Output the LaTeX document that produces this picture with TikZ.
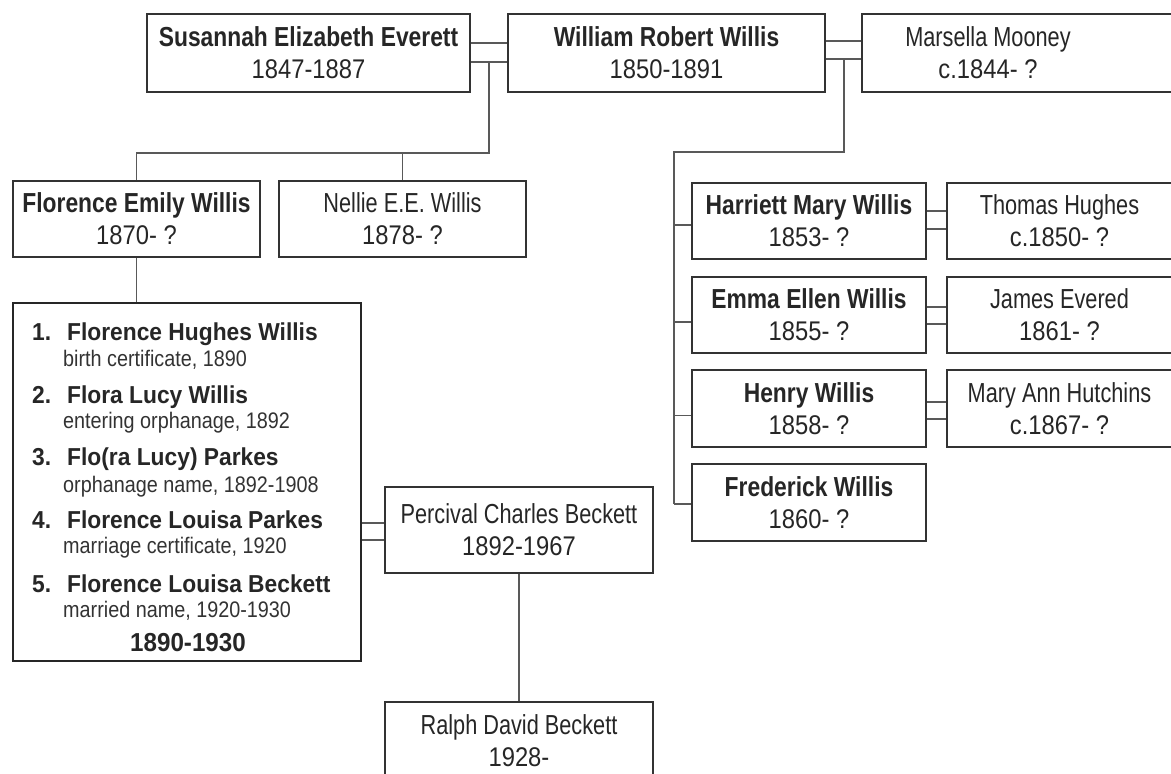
\documentclass[tikz,border=0pt]{standalone}
\usepackage{fontspec}
\setmainfont{Liberation Sans}
\newfontfamily\condb{Liberation Sans}[FakeStretch=0.83]
\newfontfamily\condr{Liberation Sans}[FakeStretch=0.79]
\newfontfamily\datef{Liberation Sans}[FakeStretch=0.88]
\newfontfamily\bigf{Liberation Sans}[FakeStretch=0.93]
\newcommand\pnb[1]{{\condb\bfseries\fontsize{27.5}{32}\selectfont #1}}
\newcommand\pnr[1]{{\condr\fontsize{27.5}{32}\selectfont #1}}
\newcommand\pdt[1]{{\datef\fontsize{27}{32}\selectfont #1}}
\begin{document}
\begin{tikzpicture}[x=1pt,y=-1pt,
  box/.style={draw=black!80, line width=1.8pt, inner sep=0pt, align=center,
    text=black!85, font=\fontsize{27}{32}\selectfont},
  txt/.style={inner sep=0pt, align=center, text=black!85, font=\fontsize{27}{32}\selectfont},
  conn/.style={draw=black!65, line width=1.8pt},
  itemname/.style={anchor=base west, inner sep=0pt, text=black!85, font=\bigf\bfseries\fontsize{24.5}{28}\selectfont},
  itemsub/.style={anchor=base west, inner sep=0pt, text=black!80, font=\datef\fontsize{22.5}{24}\selectfont}]
\useasboundingbox (0,0) rectangle (1171,774);
\fill[white] (0,0) rectangle (1171,774);

% top row
\node[box, minimum width=323pt, minimum height=78pt] (sus) at (308.5,53) {\pnb{Susannah Elizabeth Everett}\\\pdt{1847-1887}};
\node[box, minimum width=317pt, minimum height=78pt] (wil) at (666.5,53) {\pnb{William Robert Willis}\\\pdt{1850-1891}};
\node[box, minimum width=318pt, minimum height=78pt] (mar) at (1021,53) {};
\node[txt] (mart) at (988,53) {\pnr{Marsella Mooney}\\\pdt{c.1844- ?}};

% left children
\node[box, minimum width=247pt, minimum height=76pt] (flo) at (136.5,219) {\pnb{Florence Emily Willis}\\\pdt{1870- ?}};
\node[box, minimum width=247pt, minimum height=76pt] (nel) at (402.5,219) {\pnr{Nellie E.E. Willis}\\\pdt{1878- ?}};

% right children and spouses
\node[box, minimum width=234pt, minimum height=76pt] (har) at (809,221) {\pnb{Harriett Mary Willis}\\\pdt{1853- ?}};
\node[box, minimum width=225pt, minimum height=76pt] (tho) at (1059.5,221) {\pnr{Thomas Hughes}\\\pdt{c.1850- ?}};
\node[box, minimum width=234pt, minimum height=76pt] (emm) at (809,315) {\pnb{Emma Ellen Willis}\\\pdt{1855- ?}};
\node[box, minimum width=225pt, minimum height=76pt] (jam) at (1059.5,315) {\pnr{James Evered}\\\pdt{1861- ?}};
\node[box, minimum width=234pt, minimum height=77pt] (hen) at (809,408.5) {\pnb{Henry Willis}\\\pdt{1858- ?}};
\node[box, minimum width=225pt, minimum height=77pt] (mah) at (1059.5,408.5) {\pnr{Mary Ann Hutchins}\\\pdt{c.1867- ?}};
\node[box, minimum width=234pt, minimum height=77pt] (fre) at (809,502.5) {\pnb{Frederick Willis}\\\pdt{1860- ?}};

% big box
\node[draw=black!85, line width=2.6pt, minimum width=348pt, minimum height=358pt, inner sep=0pt] (big) at (187,482) {};
\node[itemname] (n1) at (32,340) {\makebox[35pt][l]{1.}Florence Hughes Willis};
\node[itemsub] (s1) at (63,366) {birth certificate, 1890};
\node[itemname] (n2) at (32,403) {\makebox[35pt][l]{2.}Flora Lucy Willis};
\node[itemsub] (s2) at (63,428) {entering orphanage, 1892};
\node[itemname] (n3) at (32,465) {\makebox[35pt][l]{3.}Flo(ra Lucy) Parkes};
\node[itemsub] (s3) at (63,492) {orphanage name, 1892-1908};
\node[itemname] (n4) at (32,528) {\makebox[35pt][l]{4.}Florence Louisa Parkes};
\node[itemsub] (s4) at (63,553) {marriage certificate, 1920};
\node[itemname] (n5) at (32,592) {\makebox[35pt][l]{5.}Florence Louisa Beckett};
\node[itemsub] (s5) at (63,617) {married name, 1920-1930};
\node[anchor=base, inner sep=0pt, text=black!85, font=\bigf\bfseries\fontsize{26}{30}\selectfont] (yrs) at (188,651) {1890-1930};

% Beckett
\node[box, minimum width=268pt, minimum height=86pt] (per) at (519,530) {\pnr{Percival Charles Beckett}\\\pdt{1892-1967}};
\node[box, minimum width=268pt, minimum height=78pt] (ral) at (519,741) {\pnr{Ralph David Beckett}\\\pdt{1928-}};

% marriages
\draw[conn] ([yshift=10pt]sus.east) -- ([yshift=10pt]sus.east -| wil.west);
\draw[conn] ([yshift=-9pt]sus.east) -- ([yshift=-9pt]sus.east -| wil.west);
\draw[conn] ([yshift=12pt]wil.east) -- ([yshift=12pt]wil.east -| mar.west);
\draw[conn] ([yshift=-6pt]wil.east) -- ([yshift=-6pt]wil.east -| mar.west);
\draw[conn] ([yshift=10pt]har.east) -- ([yshift=10pt]har.east -| tho.west);
\draw[conn] ([yshift=-8pt]har.east) -- ([yshift=-8pt]har.east -| tho.west);
\draw[conn] ([yshift=8pt]emm.east) -- ([yshift=8pt]emm.east -| jam.west);
\draw[conn] ([yshift=-9pt]emm.east) -- ([yshift=-9pt]emm.east -| jam.west);
\draw[conn] ([yshift=6.5pt]hen.east) -- ([yshift=6.5pt]hen.east -| mah.west);
\draw[conn] ([yshift=-10.5pt]hen.east) -- ([yshift=-10.5pt]hen.east -| mah.west);
\draw[conn] ([yshift=7pt]per.west) -- ([yshift=7pt]per.west -| big.east);
\draw[conn] ([yshift=-10pt]per.west) -- ([yshift=-10pt]per.west -| big.east);

% descent, left family
\coordinate (m1) at (489,62);
\coordinate (j1) at (489,153);
\draw[conn] (m1) -- (j1) -| (flo.north);
\draw[conn] (nel.north) -- (nel.north |- j1);
\draw[conn] (flo.south) -- (flo.south |- big.north);
\draw[conn] (per.south) -- (ral.north);

% descent, right family
\coordinate (m2) at (844,59);
\coordinate (j2) at (844,152);
\coordinate (c0) at (674,152);
\coordinate (c1) at (674,504);
\draw[conn] (m2) -- (j2) -- (c0) -- (c1);
\draw[conn] ([yshift=-4pt]har.west) -- ([yshift=-4pt]har.west -| c0);
\draw[conn] ([yshift=-7pt]emm.west) -- ([yshift=-7pt]emm.west -| c0);
\draw[conn] ([yshift=-7pt]hen.west) -- ([yshift=-7pt]hen.west -| c0);
\draw[conn] ([yshift=-1.5pt]fre.west) -- ([yshift=-1.5pt]fre.west -| c0);
\end{tikzpicture}
\end{document}
